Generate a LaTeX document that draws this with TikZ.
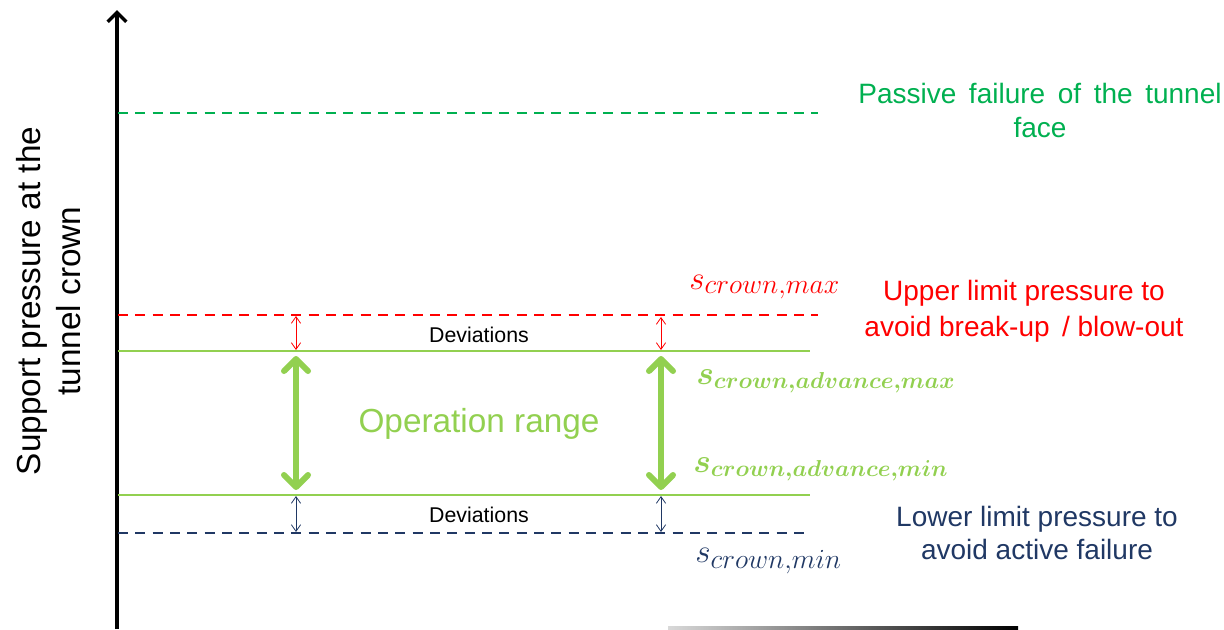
\documentclass[tikz,border=0pt]{standalone}
\usepackage{fontspec}
\setmainfont{Liberation Sans}
\usetikzlibrary{arrows.meta}
\definecolor{pgreen}{HTML}{00B050}
\definecolor{lgreen}{HTML}{92D050}
\definecolor{rred}{HTML}{FF0000}
\definecolor{navy}{HTML}{203864}
\begin{document}
\begin{tikzpicture}[x=0.75pt,y=-0.75pt,
  dline/.style={line width=1.4pt, dash pattern=on 7.5pt off 5.5pt},
  sline/.style={lgreen, line width=1.9pt},
  bigarr/.style={lgreen, line width=4.5pt, line cap=round,
    {Straight Barb[length=9pt,width=18pt,round]}-{Straight Barb[length=9pt,width=18pt,round]}},
  devarr/.style={line width=0.6pt,
    {Straight Barb[length=5pt,width=7pt]}-{Straight Barb[length=5pt,width=7pt]}},
  bigtxt/.style={font=\fontsize{21}{25.5}\selectfont, align=center, inner sep=0pt},
  mathlbl/.style={anchor=base west, inner sep=0pt, font=\fontsize{31}{34}\selectfont},
  bmathlbl/.style={anchor=base west, inner sep=0pt, font={\fontsize{27}{30}\selectfont\mathversion{bold}}},
  devtxt/.style={font=\fontsize{16}{19}\selectfont, inner sep=0pt}
]
\useasboundingbox (0,0) rectangle (1224,629);
% axis
\coordinate (ax0) at (117,629);
\coordinate (ax1) at (117,10);
\draw[line width=2.6pt, -{Straight Barb[length=7pt,width=14pt]}] (ax0) -- (ax1);
% bottom grey line
\shade[left color=gray!30, right color=black] (668,626) rectangle (1018,629);
% horizontal lines
\coordinate (p0) at (118,113); \coordinate (p1) at (818,113);
\coordinate (r0) at (118,315); \coordinate (r1) at (818,315);
\coordinate (g0) at (118,351); \coordinate (g1) at (810,351);
\coordinate (h0) at (118,495); \coordinate (h1) at (810,495);
\coordinate (n0) at (118,533); \coordinate (n1) at (810,533);
\draw[dline, pgreen] (p0) -- (p1);
\draw[dline, rred] (r0) -- (r1);
\draw[sline] (g0) -- (g1);
\draw[sline] (h0) -- (h1);
\draw[dline, navy] (n0) -- (n1);
% arrows
\coordinate (ra1) at (296,316); \coordinate (ra2) at (296,350);
\coordinate (rb1) at (661,317); \coordinate (rb2) at (661,350);
\coordinate (ga1) at (296,356); \coordinate (ga2) at (296,490);
\coordinate (gb1) at (661,356); \coordinate (gb2) at (661,490);
\coordinate (na1) at (296,496); \coordinate (na2) at (296,532);
\coordinate (nb1) at (661,496); \coordinate (nb2) at (661,532);
\draw[devarr, rred] (ra1) -- (ra2);
\draw[devarr, rred] (rb1) -- (rb2);
\draw[bigarr] (ga1) -- (ga2);
\draw[bigarr] (gb1) -- (gb2);
\draw[devarr, navy] (na1) -- (na2);
\draw[devarr, navy] (nb1) -- (nb2);
% texts
\node[devtxt] (dev1) at (479,335) {Deviations};
\node[devtxt] (dev2) at (479,515) {Deviations};
\node[lgreen, font=\fontsize{25}{30}\selectfont, inner sep=0pt] (oprange) at (479,424) {Operation range};
\node[rotate=90, font=\fontsize{25}{30}\selectfont, align=center, inner sep=0pt] (ylab) at (49,301) {Support pressure at the\\tunnel crown};
\node[bigtxt, pgreen, font={\fontsize{21}{25.5}\selectfont\spaceskip=0.45em plus 0.1em}] (passive) at (1040,110) {Passive failure of the tunnel\\face};
\node[bigtxt, rred, font=\fontsize{21}{27}\selectfont] (upper) at (1024,311) {Upper limit pressure to\\avoid break-up\, / blow-out};
\node[bigtxt, navy, font=\fontsize{21}{25}\selectfont] (lower) at (1037,533) {Lower limit pressure to\\avoid active failure};
\node[mathlbl, rred] (smax) at (689,289) {$s_{crown{,}max}$};
\node[bmathlbl, lgreen] (samax) at (696,384) {$s_{crown{,}advance{,}max}$};
\node[bmathlbl, lgreen] (samin) at (693,472) {$s_{crown{,}advance{,}min}$};
\node[mathlbl, navy] (smin) at (695,562) {$s_{crown{,}min}$};
\end{tikzpicture}
\end{document}
